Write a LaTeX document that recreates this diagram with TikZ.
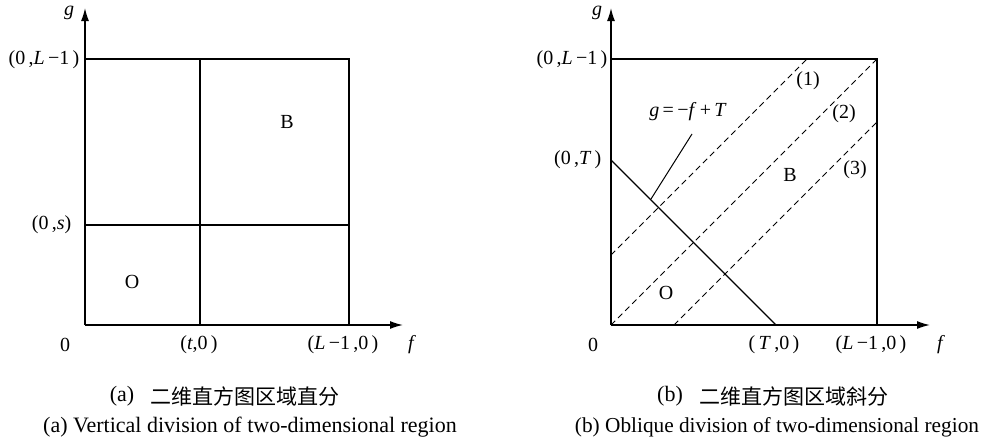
\documentclass[tikz,border=0pt]{standalone}
\usepackage{fontspec}
\setmainfont{Liberation Serif}
\newfontfamily\cjk{Noto Sans CJK SC}
\usetikzlibrary{arrows.meta}
\begin{document}
\begin{tikzpicture}[x=1pt,y=-1pt,line width=1.2pt,
  lbl/.style={font=\fontsize{20}{22}\selectfont,inner sep=0pt},
  captext/.style={font=\fontsize{22}{24}\selectfont,inner sep=0pt},
  cjkcap/.style={font=\cjk\fontsize{21}{23}\selectfont,inner sep=0pt},
  axisline/.style={-{Latex[length=13pt,width=8pt]},line width=1.4pt},
  dashline/.style={dash pattern=on 6pt off 4pt,line width=1pt}]
\useasboundingbox (0,0) rectangle (991,445);
% ---------- left panel ----------
\coordinate (aO) at (85,325);
\coordinate (aX) at (403,325);
\coordinate (aY) at (85,8);
\coordinate (aTL) at (85,59);
\coordinate (aTR) at (349,59);
\coordinate (aBR) at (349,325);
\coordinate (aVt) at (200,59);
\coordinate (aVb) at (200,325);
\coordinate (aHl) at (85,225);
\coordinate (aHr) at (349,225);
\draw[axisline] (aO) -- (aX);
\draw[axisline] (aO) -- (aY);
\draw (aTL) -- (aTR) -- (aBR);
\draw (aVt) -- (aVb);
\draw (aHl) -- (aHr);
\node[lbl] (ag) at (69,13) {\textit{g}};
\node[lbl] (af) at (412,345) {\textit{f}};
\node[lbl] (a0) at (65,345) {0};
\node[lbl,anchor=east] (aL1) at (80,60) {(0\,,\textit{L}\,−1\,)};
\node[lbl,anchor=east] (as) at (72,225) {(0\,,\textit{s})};
\node[lbl] (at) at (199,345) {(\textit{t},0\,)};
\node[lbl] (aL2) at (343,345) {(\textit{L}\,−1\,,0\,)};
\node[lbl] (aB) at (287,122) {B};
\node[lbl] (aOO) at (132,282) {O};
\node[captext] (acapl) at (122,396) {(a)};
\node[cjkcap] (acapc) at (245,396) {二维直方图区域直分};
\node[captext] (acape) at (250,427) {(a) Vertical division of two-dimensional region};
% ---------- right panel ----------
\coordinate (bO) at (611,325);
\coordinate (bX) at (930,325);
\coordinate (bY) at (611,8);
\coordinate (bTL) at (611,59);
\coordinate (bTR) at (877,59);
\coordinate (bBR) at (877,325);
\coordinate (bT1) at (611,160);
\coordinate (bT2) at (776,325);
\coordinate (d1a) at (611,255);
\coordinate (d1b) at (807,59);
\coordinate (d3a) at (674,325);
\coordinate (d3b) at (877,122);
\coordinate (lead1) at (692,134);
\coordinate (lead2) at (651,199);
\draw[axisline] (bO) -- (bX);
\draw[axisline] (bO) -- (bY);
\draw (bTL) -- (bTR) -- (bBR);
\draw (bT1) -- (bT2);
\draw[dashline] (d1a) -- (d1b);
\draw[dashline] (bO) -- (bTR);
\draw[dashline] (d3a) -- (d3b);
\draw[line width=1pt] (lead1) -- (lead2);
\node[lbl] (bg) at (597,13) {\textit{g}};
\node[lbl] (bf) at (941,345) {\textit{f}};
\node[lbl] (b0) at (593,345) {0};
\node[lbl,anchor=east] (bL1) at (608,60) {(0\,,\textit{L}\,−1\,)};
\node[lbl,anchor=east] (bT) at (602,160) {(0\,,\textit{T}\,)};
\node[lbl] (bTz) at (774,345) {(\,\textit{T}\,,0\,)};
\node[lbl] (bL2) at (871,345) {(\textit{L}\,−1\,,0\,)};
\node[lbl] (beq) at (688,112) {\textit{g}\,=\,−\textit{f}\,+\,\textit{T}};
\node[lbl] (n1) at (808,81) {(1)};
\node[lbl] (n2) at (844,114) {(2)};
\node[lbl] (n3) at (855,170) {(3)};
\node[lbl] (bB) at (790,175) {B};
\node[lbl] (bOO) at (666,293) {O};
\node[captext] (bcapl) at (670,396) {(b)};
\node[cjkcap] (bcapc) at (794,396) {二维直方图区域斜分};
\node[captext,font=\fontsize{21.3}{24}\selectfont] (bcape) at (777,427) {(b) Oblique division of two-dimensional region};
\end{tikzpicture}
\end{document}
